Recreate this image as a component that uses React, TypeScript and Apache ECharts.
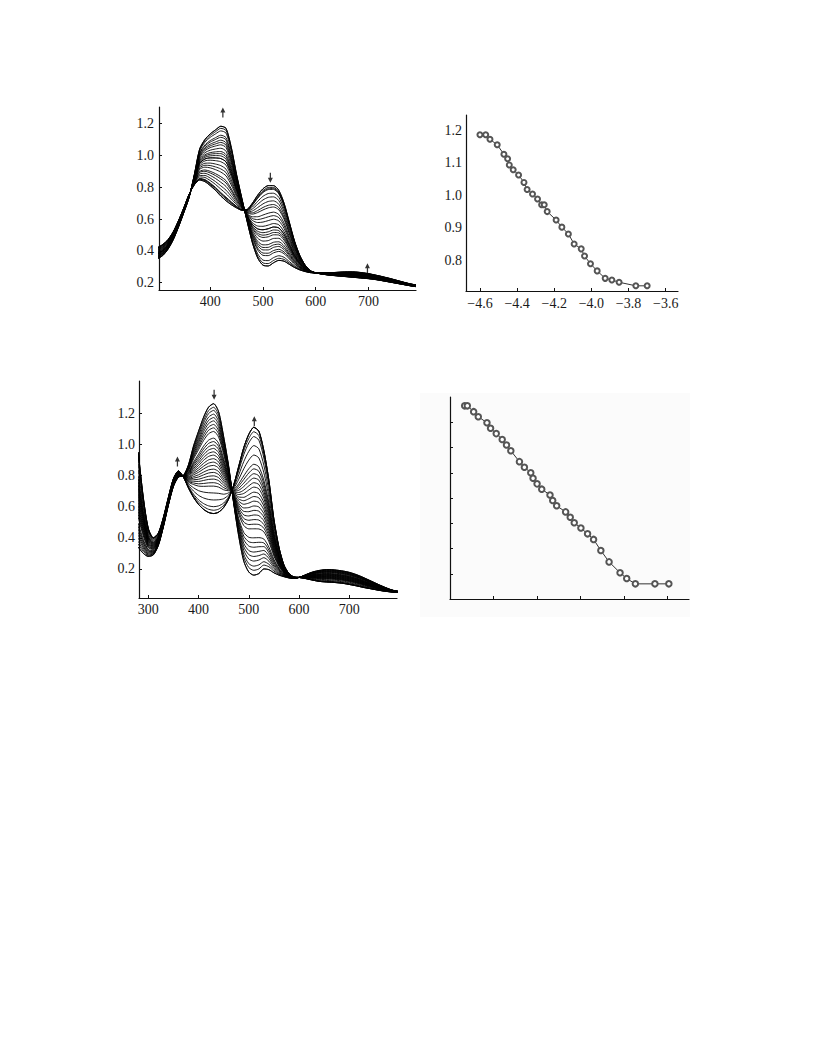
import React, { useEffect, useRef } from "react";
import * as echarts from "echarts";

// ---------- Top-left: titration spectra (two-species mixtures) ----------
const tlWavelengths = [300, 310, 320, 330, 340, 350, 360, 370, 380, 390, 400, 410, 420, 430, 440, 450, 460, 470, 480, 490, 500, 510, 520, 530, 540, 550, 560, 570, 580, 590, 600, 610, 620, 630, 640, 650, 660, 670, 680, 690, 700, 710, 720, 730, 740, 750, 760, 770, 780, 790];
// spectrum with low 425 nm band (last of the series)
const tlLow425Spectrum = [0.42, 0.44, 0.47, 0.52, 0.59, 0.67, 0.755, 0.815, 0.845, 0.835, 0.81, 0.78, 0.745, 0.715, 0.69, 0.67, 0.655, 0.66, 0.7, 0.75, 0.79, 0.81, 0.81, 0.78, 0.7, 0.58, 0.46, 0.37, 0.31, 0.275, 0.262, 0.255, 0.25, 0.246, 0.243, 0.24, 0.237, 0.234, 0.231, 0.228, 0.225, 0.221, 0.216, 0.21, 0.204, 0.198, 0.192, 0.186, 0.18, 0.175];
// spectrum with high 425 nm band (first of the series)
const tlHigh425Spectrum = [0.35, 0.37, 0.41, 0.47, 0.55, 0.64, 0.735, 0.88, 1.04, 1.1, 1.135, 1.16, 1.183, 1.17, 1.05, 0.88, 0.73, 0.585, 0.45, 0.355, 0.31, 0.305, 0.325, 0.34, 0.335, 0.315, 0.295, 0.28, 0.27, 0.263, 0.262, 0.262, 0.262, 0.263, 0.265, 0.267, 0.268, 0.268, 0.266, 0.262, 0.257, 0.25, 0.243, 0.235, 0.227, 0.218, 0.209, 0.2, 0.192, 0.186];

// ---------- Top-right: absorbance vs log concentration ----------
const trLogConc = [-4.6, -4.569, -4.546, -4.507, -4.471, -4.451, -4.442, -4.421, -4.392, -4.363, -4.346, -4.317, -4.29, -4.268, -4.254, -4.238, -4.19, -4.159, -4.124, -4.093, -4.055, -4.037, -4.005, -3.969, -3.926, -3.89, -3.851, -3.761, -3.7];
const trAbsorbance = [1.187, 1.187, 1.173, 1.156, 1.127, 1.113, 1.094, 1.079, 1.063, 1.04, 1.018, 1.004, 0.989, 0.971, 0.971, 0.95, 0.924, 0.902, 0.881, 0.85, 0.835, 0.813, 0.789, 0.767, 0.744, 0.739, 0.732, 0.721, 0.721];

// ---------- Bottom-left: titration spectra ----------
const blWavelengths = [280, 290, 300, 310, 320, 330, 340, 350, 360, 370, 380, 390, 400, 410, 420, 430, 440, 450, 460, 470, 480, 490, 500, 510, 520, 530, 540, 550, 560, 570, 580, 590, 600, 610, 620, 630, 640, 650, 660, 670, 680, 690, 700, 710, 720, 730, 740, 750, 760, 770, 780, 790, 800];
const blHigh430Spectrum = [0.34, 0.3, 0.28, 0.29, 0.35, 0.47, 0.61, 0.73, 0.79, 0.8, 0.87, 0.99, 1.085, 1.175, 1.24, 1.262, 1.21, 1.05, 0.86, 0.62, 0.41, 0.25, 0.18, 0.16, 0.17, 0.2, 0.195, 0.175, 0.16, 0.15, 0.142, 0.14, 0.145, 0.158, 0.172, 0.183, 0.19, 0.195, 0.196, 0.194, 0.19, 0.185, 0.178, 0.168, 0.156, 0.142, 0.127, 0.112, 0.097, 0.083, 0.07, 0.06, 0.055];
const blHigh512Spectrum = [0.95, 0.66, 0.46, 0.4, 0.43, 0.53, 0.66, 0.78, 0.83, 0.79, 0.72, 0.66, 0.615, 0.583, 0.563, 0.556, 0.565, 0.595, 0.65, 0.74, 0.86, 0.98, 1.065, 1.11, 1.085, 0.96, 0.77, 0.52, 0.34, 0.225, 0.17, 0.148, 0.145, 0.14, 0.133, 0.126, 0.12, 0.117, 0.115, 0.113, 0.11, 0.106, 0.1, 0.094, 0.087, 0.08, 0.074, 0.068, 0.062, 0.057, 0.053, 0.05, 0.048];

// ---------- Bottom-right: unlabelled titration curve ----------
const brX = [0.337, 0.398, 0.543, 0.65, 0.849, 0.932, 1.062, 1.199, 1.298, 1.397, 1.595, 1.709, 1.855, 1.908, 2.0, 2.107, 2.297, 2.359, 2.45, 2.656, 2.762, 2.854, 3.007, 3.16, 3.298, 3.465, 3.654, 3.906, 4.059, 4.258, 4.707, 5.027];
const brY = [7.65, 7.65, 7.42, 7.22, 6.98, 6.76, 6.55, 6.32, 6.1, 5.87, 5.44, 5.22, 5.0, 4.78, 4.56, 4.35, 4.12, 3.9, 3.69, 3.45, 3.24, 3.02, 2.81, 2.58, 2.36, 1.92, 1.47, 1.04, 0.81, 0.6, 0.6, 0.6];

// ---------- Ticks ----------
const tlXTicks = [400, 500, 600, 700];
const tlYTicks = [0.2, 0.4, 0.6, 0.8, 1.0, 1.2];
const trXTicks = [-4.6, -4.4, -4.2, -4.0, -3.8, -3.6];
const trYTicks = [0.8, 0.9, 1.0, 1.1, 1.2];
const blXTicks = [300, 400, 500, 600, 700];
const blYTicks = [0.2, 0.4, 0.6, 0.8, 1.0, 1.2];
const brXTicks = [1, 2, 3, 4, 5];
const brYTicks = [1, 2, 3, 4, 5, 6, 7];

// ---------- Arrow annotations [wavelength, absorbance, direction] ----------
const tlArrows: [number, number, string][] = [[424, 1.27, "up"], [514, 0.86, "down"], [698, 0.29, "up"]];
const blArrows: [number, number, string][] = [[358, 0.89, "up"], [431, 1.32, "down"], [511, 1.15, "up"]];

const FONT = "'Liberation Serif', 'Times New Roman', serif";
const ARROW = "path://M4,0 L8,7 L5,7 L5,14 L3,14 L3,7 L0,7 Z";

function fmt1(v: number) {
  return v.toFixed(1).replace("-", "\u2212");
}

function axis(gridIndex: number, min: number, max: number, ticks: number[], opts: any = {}) {
  return {
    type: "value",
    gridIndex,
    min,
    max,
    axisLine: { show: true, onZero: false, lineStyle: { color: "#111", width: 1.2 } },
    axisTick: {
      show: opts.tick !== false,
      inside: true,
      length: 3,
      customValues: ticks,
      lineStyle: { color: "#111", width: 1 },
    },
    axisLabel: {
      show: opts.label !== false,
      customValues: ticks,
      formatter: opts.fmt || ((v: number) => String(v)),
      margin: opts.margin ?? 5,
      fontFamily: FONT,
      fontSize: 14,
      color: "#1a1a1a",
    },
    splitLine: { show: false },
  };
}

function mixSeries(
  wl: number[],
  low: number[],
  high: number[],
  levels: number[],
  xAxisIndex: number,
  yAxisIndex: number
) {
  const lo = Math.min(...levels);
  const hi = Math.max(...levels);
  return levels.map((lvl, i) => {
    const w = (lvl - lo) / (hi - lo);
    return {
      type: "line",
      name: `s${xAxisIndex}_${i}`,
      xAxisIndex,
      yAxisIndex,
      data: wl.map((x, k) => [x, low[k] * (1 - w) + high[k] * w]),
      showSymbol: false,
      symbol: "none",
      smooth: 0.25,
      clip: true,
      silent: true,
      lineStyle: { color: "#000", width: 0.9 },
      z: 2,
    };
  });
}

function arrowSeries(arrows: [number, number, string][], xAxisIndex: number, yAxisIndex: number) {
  return {
    type: "scatter",
    xAxisIndex,
    yAxisIndex,
    silent: true,
    data: arrows.map((a) => ({
      value: [a[0], a[1]],
      symbolRotate: a[2] === "down" ? 180 : 0,
    })),
    symbol: ARROW,
    symbolSize: [5, 10],
    itemStyle: { color: "#000" },
    z: 5,
  };
}

export default function App() {
  const ref = useRef<HTMLDivElement>(null);

  useEffect(() => {
    if (!ref.current) return;
    const chart = echarts.init(ref.current, null, { renderer: "svg" });
    const option: any = {
      animation: false,
      backgroundColor: "#fff",
      grid: [
        { left: 159, top: 107, width: 257, height: 183 },
        { left: 466, top: 115, width: 212, height: 176 },
        { left: 139, top: 381, width: 258, height: 217 },
        { left: 450, top: 397, width: 239, height: 202 },
      ],
      xAxis: [
        axis(0, 303, 790, tlXTicks, { margin: 4 }),
        axis(1, -4.675, -3.534, trXTicks, { fmt: fmt1, margin: 5 }),
        axis(2, 281.5, 795, blXTicks, { margin: 4 }),
        axis(3, 0, 5.49, brXTicks, { label: false }),
      ],
      yAxis: [
        axis(0, 0.154, 1.304, tlYTicks, { fmt: fmt1, margin: 5 }),
        axis(1, 0.705, 1.248, trYTicks, { fmt: fmt1, margin: 4, tick: false }),
        axis(2, 0.013, 1.408, blYTicks, { fmt: fmt1, margin: 4 }),
        axis(3, 0, 8.0, brYTicks, { label: false }),
      ],
      graphic: [
        {
          type: "rect",
          shape: { x: 420, y: 393, width: 270, height: 224 },
          style: { fill: "#fbfbfb" },
          z: -10,
          silent: true,
        },
      ],
      series: [
        ...mixSeries(tlWavelengths, tlLow425Spectrum, tlHigh425Spectrum, trAbsorbance, 0, 0),
        arrowSeries(tlArrows, 0, 0),
        {
          type: "line",
          xAxisIndex: 1,
          yAxisIndex: 1,
          data: trLogConc.map((x, i) => [x, trAbsorbance[i]]),
          symbol: "emptyCircle",
          symbolSize: 5,
          showSymbol: true,
          lineStyle: { color: "#333", width: 1 },
          itemStyle: { color: "#555", borderWidth: 0.8 },
          silent: true,
          z: 3,
        },
        ...mixSeries(blWavelengths, blHigh512Spectrum, blHigh430Spectrum, brY, 2, 2),
        arrowSeries(blArrows, 2, 2),
        {
          type: "line",
          xAxisIndex: 3,
          yAxisIndex: 3,
          data: brX.map((x, i) => [x, brY[i]]),
          symbol: "emptyCircle",
          symbolSize: 5.5,
          showSymbol: true,
          lineStyle: { color: "#333", width: 1 },
          itemStyle: { color: "#555", borderWidth: 0.8 },
          silent: true,
          z: 3,
        },
      ],
    };
    chart.setOption(option);
    return () => chart.dispose();
  }, []);

  return (
    <div
      ref={ref}
      style={{ position: "absolute", left: 0, top: 0, width: 816, height: 1056, background: "#fff" }}
    />
  );
}
